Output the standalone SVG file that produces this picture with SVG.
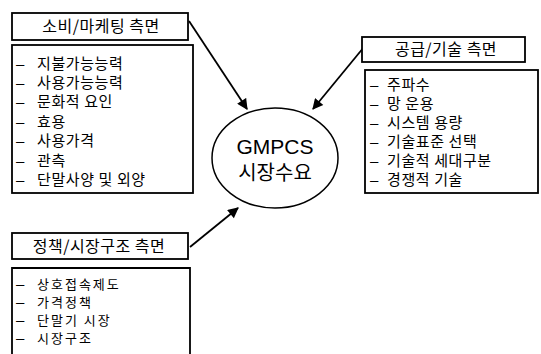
<svg xmlns="http://www.w3.org/2000/svg" width="541" height="354" viewBox="0 0 541 354">
<defs>
<style>
.box{fill:#fff;stroke:#000;stroke-width:1.8}
.t{font-family:"Noto Sans CJK KR","Liberation Sans",sans-serif;font-size:15px;letter-spacing:0.6px;fill:#000}
.s{font-size:13px;letter-spacing:2px}
.d{font-family:"Liberation Sans",sans-serif;font-size:15px;fill:#000}
.h{font-family:"Noto Sans CJK KR","Liberation Sans",sans-serif;font-size:16px;letter-spacing:0.5px;fill:#000;text-anchor:middle}
.c{font-family:"Liberation Sans","Noto Sans CJK KR",sans-serif;font-size:21px;fill:#000;text-anchor:middle}
.ln{stroke:#000;stroke-width:1.8;fill:none}
</style>
<marker id="ah" viewBox="0 0 10 10" refX="9" refY="5" markerWidth="6.5" markerHeight="6" orient="auto" markerUnits="strokeWidth">
<path d="M0,0 L10,5 L0,10 z" fill="#000"/>
</marker>
</defs>
<rect width="541" height="354" fill="#fff"/>
<g id="connectors">
<line class="ln" x1="189" y1="21" x2="247" y2="109" marker-end="url(#ah)"/>
<line class="ln" x1="364" y1="47" x2="313" y2="109" marker-end="url(#ah)"/>
<line class="ln" x1="190" y1="247" x2="238" y2="208" marker-end="url(#ah)"/>
</g>
<g id="consumer-title">
<rect class="box" x="12" y="13" width="176" height="27"/>
<text class="h" x="101" y="32">소비/마케팅 측면</text>
</g>
<g id="consumer-list">
<rect class="box" x="12" y="45" width="181" height="148"/>
<g class="d"><text x="16" y="69">–</text><text x="16" y="88">–</text><text x="16" y="107">–</text><text x="16" y="127">–</text><text x="16" y="146">–</text><text x="16" y="166">–</text><text x="16" y="185">–</text></g>
<text class="t" x="37" y="69">지불가능능력</text>
<text class="t" x="37" y="88">사용가능능력</text>
<text class="t" x="37" y="107">문화적 요인</text>
<text class="t" x="37" y="127">효용</text>
<text class="t" x="37" y="146">사용가격</text>
<text class="t" x="37" y="166">관측</text>
<text class="t" x="37" y="185">단말사양 및 외양</text>
</g>
<g id="tech-title">
<rect class="box" x="362" y="37" width="163" height="25"/>
<text class="h" x="446" y="55">공급/기술 측면</text>
</g>
<g id="tech-list">
<rect class="box" x="365" y="70" width="173" height="123"/>
<g class="d"><text x="370" y="90">–</text><text x="370" y="109">–</text><text x="370" y="128">–</text><text x="370" y="147">–</text><text x="370" y="166">–</text><text x="370" y="185">–</text></g>
<text class="t" x="387" y="90">주파수</text>
<text class="t" x="387" y="109">망 운용</text>
<text class="t" x="387" y="128">시스템 용량</text>
<text class="t" x="387" y="147">기술표준 선택</text>
<text class="t" x="387" y="166">기술적 세대구분</text>
<text class="t" x="387" y="185">경쟁적 기술</text>
</g>
<g id="center">
<ellipse cx="275" cy="158" rx="63" ry="50" fill="#fff" stroke="#000" stroke-width="1.5"/>
<text class="c" x="275" y="154">GMPCS</text>
<text class="c" x="275" y="180" style="font-family:'Noto Sans CJK KR',sans-serif;font-size:20px">시장수요</text>
</g>
<g id="policy-title">
<rect class="box" x="12" y="233" width="176" height="26"/>
<text class="h" x="99" y="252">정책/시장구조 측면</text>
</g>
<g id="policy-list">
<path class="ln" d="M12,360 V268 H190 V360"/>
<g class="d"><text x="16" y="289">–</text><text x="16" y="307">–</text><text x="16" y="325">–</text><text x="16" y="343">–</text></g>
<text class="t s" x="37" y="289">상호접속제도</text>
<text class="t s" x="37" y="307">가격정책</text>
<text class="t s" x="37" y="325">단말기 시장</text>
<text class="t s" x="37" y="343">시장구조</text>
</g>
</svg>
